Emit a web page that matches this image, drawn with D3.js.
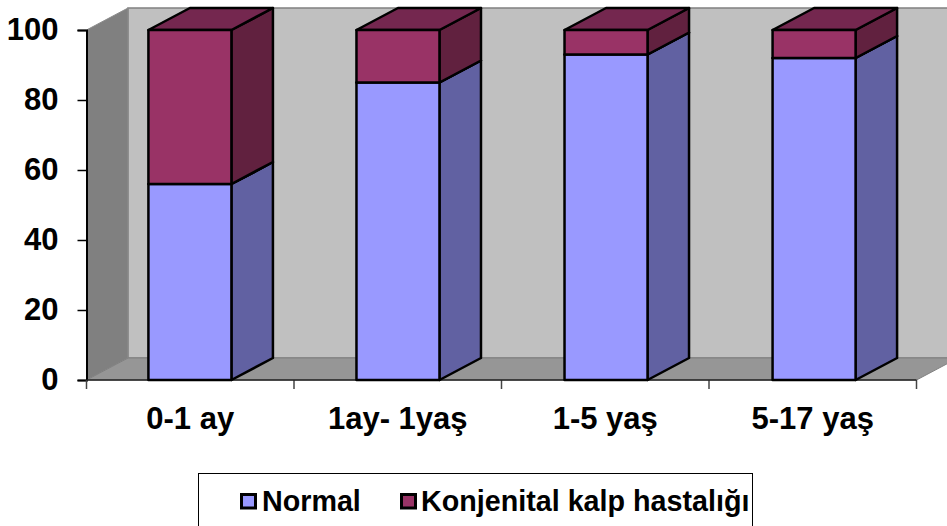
<!DOCTYPE html>
<html>
<head>
<meta charset="utf-8">
<script src="https://cdnjs.cloudflare.com/ajax/libs/d3/7.8.5/d3.min.js"></script>
<style>
html, body { margin: 0; padding: 0; background: #fff; overflow: hidden; }
text { font-family: "Liberation Sans", Arial, sans-serif; font-weight: bold; fill: #000; }
</style>
</head>
<body>
<svg id="chart" width="947" height="526"></svg>
<script>
const categories = ["0-1 ay", "1ay- 1yaş", "1-5 yaş", "5-17 yaş"];
const normalValues = [56, 85, 93, 92];
const konjenitalValues = [44, 15, 7, 8];
const seriesNames = ["Normal", "Konjenital kalp hastalığı"];
const yTicks = [0, 20, 40, 60, 80, 100];

const svg = d3.select("#chart");

const x = d3.scaleBand().domain(categories).range([86, 918]).paddingInner(0.601).paddingOuter(0.3);
const xEdge = d3.scaleLinear().domain([0, categories.length]).range([86.5, 916.5]);
const y = d3.scaleLinear().domain([0, 100]).range([380, 30]);

// 3d depth offset
const dx = 41.5, dy = -22;

const colors = {
    normal: { front: "#9999ff", side: "#6161a2", top: "#7a7ac0" },
    konj: { front: "#993366", side: "#61213f", top: "#74274f" }
};

const poly = pts => pts.map(p => p.join(",")).join(" ");

const x0 = xEdge(0), x1 = xEdge(categories.length), yB = y(0), yT = y(100);

// walls
svg.append("polygon")
    .attr("points", poly([[x0 + dx, yT + dy], [950, yT + dy], [950, yB + dy], [x0 + dx, yB + dy]]))
    .attr("fill", "#c0c0c0").attr("stroke", "#808080").attr("stroke-width", 1.5);
svg.append("polygon")
    .attr("points", poly([[x0, yT], [x0 + dx, yT + dy], [x0 + dx, yB + dy], [x0, yB]]))
    .attr("fill", "#808080").attr("stroke", "#8c8c8c").attr("stroke-width", 1);
svg.append("polygon")
    .attr("points", poly([[x0, yB], [x0 + dx, yB + dy], [x1 + dx, yB + dy], [x1, yB]]))
    .attr("fill", "#969696").attr("stroke", "#808080").attr("stroke-width", 1);

// axes
const yAxis = d3.axisLeft(y).tickValues(yTicks).tickSize(9).tickPadding(19);
const gy = svg.append("g").attr("transform", `translate(${x0},0)`).call(yAxis);
gy.selectAll(".tick line").attr("stroke", "#000").attr("stroke-width", 1.5);
gy.select(".domain").attr("stroke", "#000").attr("stroke-width", 2);
gy.selectAll("text").style("font-size", "31px");

svg.append("g").selectAll("line").data(d3.range(categories.length + 1)).enter().append("line")
    .attr("x1", d => xEdge(d)).attr("x2", d => xEdge(d))
    .attr("y1", yB).attr("y2", yB + 9)
    .attr("stroke", "#444").attr("stroke-width", 1.5);
svg.append("line")
    .attr("x1", x0).attr("x2", x1).attr("y1", yB).attr("y2", yB)
    .attr("stroke", "#222").attr("stroke-width", 1.5);

svg.append("g").selectAll("text").data(categories).enter().append("text")
    .attr("x", (d, i) => xEdge(i + 0.5))
    .attr("y", 429)
    .attr("text-anchor", "middle")
    .style("font-size", "31px")
    .text(d => d);

// stacked boxes
const stack = d3.stack().keys(["normal", "konj"])(categories.map((c, i) => ({
    cat: c, normal: normalValues[i], konj: konjenitalValues[i]
})));

stack.forEach(layer => {
    const c = colors[layer.key];
    layer.forEach(d => {
        const l = x(d.data.cat), r = l + x.bandwidth();
        const b = y(d[0]), t = y(d[1]);
        const g = svg.append("g").attr("stroke", "#000").attr("stroke-width", 2.5).attr("stroke-linejoin", "round");
        g.append("polygon")
            .attr("points", poly([[r, t], [r + dx, t + dy], [r + dx, b + dy], [r, b]]))
            .attr("fill", c.side);
        g.append("polygon")
            .attr("points", poly([[l, t], [l + dx, t + dy], [r + dx, t + dy], [r, t]]))
            .attr("fill", c.top);
        g.append("rect")
            .attr("x", l).attr("y", t).attr("width", r - l).attr("height", b - t)
            .attr("fill", c.front);
    });
});

// legend
const legend = svg.append("g");
legend.append("rect")
    .attr("x", 198.5).attr("y", 473.5).attr("width", 554).attr("height", 60)
    .attr("fill", "#fff").attr("stroke", "#000").attr("stroke-width", 1);

const swatchX = [241.5, 401.5];
const labelX = [262, 421];
const legendFill = [colors.normal.front, colors.konj.front];
seriesNames.forEach((name, i) => {
    legend.append("rect")
        .attr("x", swatchX[i]).attr("y", 494.5).attr("width", 14).attr("height", 13.5)
        .attr("fill", legendFill[i]).attr("stroke", "#000").attr("stroke-width", 3);
    legend.append("text")
        .attr("x", labelX[i]).attr("y", 511)
        .style("font-size", "28.7px")
        .text(name);
});
</script>
</body>
</html>
